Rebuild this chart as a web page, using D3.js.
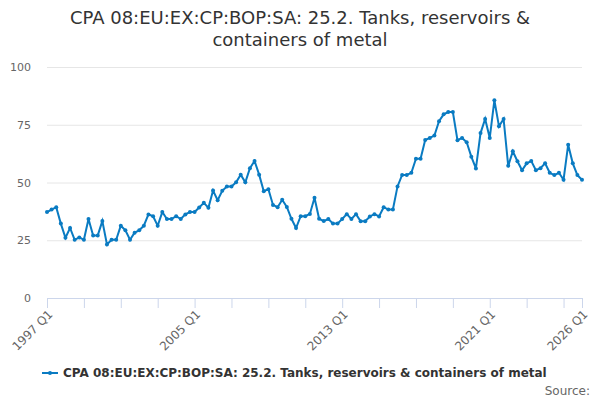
<html>
<title>CPA 08 Tanks, reservoirs & containers of metal</title>
<script src="https://d3js.org/d3.v7.min.js"></script>
<style>
  body { margin: 0; background: white; }
  text { font-family: "DejaVu Sans", sans-serif; }
</style>
<body>
<svg width=600 height=400></svg>
<script>
// quarterly series, 1997 Q1 .. 2026 Q1
var startYear = 1997;
var values = [
  37.2, 38.3, 39.3, 32.2, 26.1, 30.3, 25.2, 26.2, 25.2, 34.2,
  27.1, 27.1, 33.3, 23.2, 25.2, 25.2, 31.3, 29.3, 25.2, 28.3,
  29.3, 31.3, 36.2, 35.4, 31.3, 37.2, 34.2, 34.2, 35.4, 34.2,
  36.2, 37.2, 37.2, 39.2, 41.2, 39.1, 46.5, 42.3, 46.4, 48.3,
  48.3, 50.1, 53.4, 50.1, 56.2, 59.3, 53.4, 46.2, 47.1, 40.3,
  39.3, 42.5, 39.4, 34.3, 30.3, 35.4, 35.4, 36.4, 43.4, 34.3,
  33.3, 34.2, 32.2, 32.2, 34.2, 36.3, 34.2, 36.3, 33.2, 33.2,
  35.3, 36.3, 35.3, 39.3, 38.3, 38.3, 48.3, 53.3, 53.3, 54.2,
  60.3, 60.3, 68.4, 69.3, 70.3, 76.5, 79.5, 80.5, 80.5, 68.3,
  69.3, 67.4, 61.2, 56.1, 71.4, 77.5, 69.3, 85.6, 74.3, 77.5,
  57.2, 63.5, 59.2, 55.3, 58.3, 59.3, 55.3, 56.2, 58.3, 54.2,
  53.2, 54.2, 51.2, 66.3, 58.3, 53.2, 51.2
];
var categories = values.map(function(d, i) {
  return (startYear + Math.floor(i / 4)) + " Q" + (i % 4 + 1);
});
var yTicks = [0, 25, 50, 75, 100];
var xTickIdx = [0, 8, 16, 24, 32, 40, 48, 56, 64, 72, 80, 88, 96, 104, 112, 116];
var xLabelIdx = [0, 32, 64, 96, 116];
var titleLines = ["CPA 08:EU:EX:CP:BOP:SA: 25.2. Tanks, reservoirs &", "containers of metal"];
var seriesName = "CPA 08:EU:EX:CP:BOP:SA: 25.2. Tanks, reservoirs & containers of metal";

var svg = d3.select("svg");
var plotLeft = 47, plotRight = 582, plotTop = 67, plotBottom = 298;
var color = "#0a7bc2";

var xs = d3.scaleLinear().domain([0, values.length - 1]).range([plotLeft, plotRight]);
var ys = d3.scaleLinear().domain([0, 100]).range([plotBottom, plotTop]);

// title
svg.append("text")
  .attr("x", 300).attr("y", 24)
  .attr("text-anchor", "middle")
  .style("font-size", "18px").style("fill", "#333")
  .selectAll("tspan").data(titleLines).enter().append("tspan")
  .attr("x", 300)
  .attr("dy", function(d, i) { return i == 0 ? 0 : 22; })
  .text(function(d) { return d; });

// gridlines + y labels
var yAxis = svg.append("g")
  .attr("transform", "translate(" + plotLeft + ",0)")
  .call(d3.axisLeft(ys).tickValues(yTicks).tickSize(-(plotRight - plotLeft)).tickPadding(16));
yAxis.select(".domain").remove();
yAxis.selectAll(".tick line").attr("stroke", "#e6e6e6");
yAxis.selectAll(".tick line").filter(function(d) { return d == 0; }).remove();
yAxis.selectAll(".tick text")
  .attr("font-family", null)
  .style("font-size", "11px").style("fill", "#666");

// x axis
var xAxis = svg.append("g")
  .attr("transform", "translate(0," + plotBottom + ")")
  .call(d3.axisBottom(xs).tickValues(xTickIdx).tickSize(10).tickSizeOuter(0)
    .tickFormat(function(d) { return xLabelIdx.indexOf(d) >= 0 ? categories[d] : ""; }));
xAxis.select(".domain").attr("stroke", "#ccd6eb");
xAxis.selectAll(".tick line").attr("stroke", "#ccd6eb");
xAxis.selectAll(".tick text")
  .attr("font-family", null)
  .attr("y", 0).attr("dy", 0)
  .style("font-size", "12px").style("fill", "#666")
  .attr("text-anchor", "end")
  .attr("transform", "translate(6,17) rotate(-45)");

// series line
svg.append("path")
  .datum(values)
  .attr("d", d3.line()
    .x(function(d, i) { return xs(i); })
    .y(function(d) { return ys(d); }))
  .attr("fill", "none")
  .attr("stroke", color)
  .attr("stroke-width", 2);

svg.append("g").selectAll("circle").data(values).enter().append("circle")
  .attr("cx", function(d, i) { return xs(i); })
  .attr("cy", function(d) { return ys(d); })
  .attr("r", 2)
  .attr("fill", color);

// legend
var legend = svg.append("g").attr("transform", "translate(42,373)");
legend.append("line")
  .attr("x1", 0).attr("x2", 16).attr("y1", 0).attr("y2", 0)
  .attr("stroke", color).attr("stroke-width", 2);
legend.append("circle").attr("cx", 8).attr("cy", 0).attr("r", 2).attr("fill", color);
legend.append("text")
  .attr("x", 21).attr("y", 4)
  .style("font-size", "12px").style("font-weight", "bold").style("fill", "#333")
  .text(seriesName);

svg.append("text")
  .attr("x", 590).attr("y", 395)
  .attr("text-anchor", "end")
  .style("font-size", "12px").style("fill", "#666")
  .text("Source:");
</script>
</body>
</html>
